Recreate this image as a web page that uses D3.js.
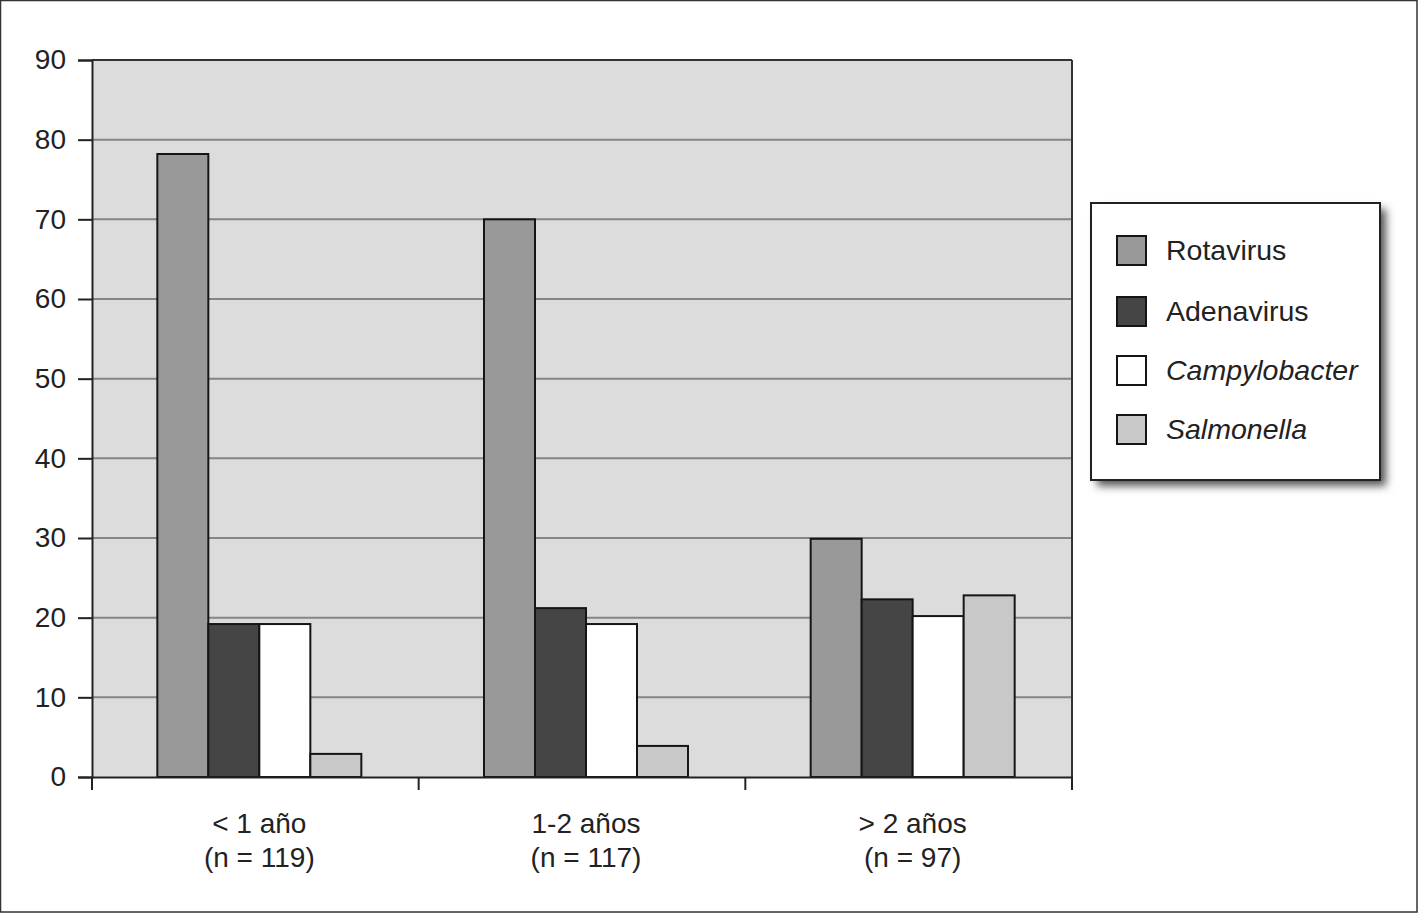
<!DOCTYPE html>
<html><head><meta charset="utf-8">
<script src="https://cdn.jsdelivr.net/npm/d3@7"></script>
<style>body{margin:0;background:#fff}svg{display:block}text{font-family:"Liberation Sans",Arial,sans-serif;fill:#222}</style>
</head><body>
<script>
const categories = ["< 1 año", "1-2 años", "> 2 años"];
const categoryN = ["(n = 119)", "(n = 117)", "(n = 97)"];
const series = ["Rotavirus", "Adenavirus", "Campylobacter", "Salmonella"];
const italicSeries = [false, false, true, true];
const colors = ["#999999", "#454545", "#ffffff", "#c8c8c8"];
const rotavirus = [78.2, 70.0, 29.9];
const adenavirus = [19.2, 21.2, 22.3];
const campylobacter = [19.2, 19.2, 20.2];
const salmonella = [2.9, 3.9, 22.8];
const yTicks = [0, 10, 20, 30, 40, 50, 60, 70, 80, 90];
const values = [rotavirus, adenavirus, campylobacter, salmonella];

const W = 1418, H = 913;
const L = 92, R = 1072, T = 60, B = 777;
const svg = d3.select("body").append("svg").attr("width", W).attr("height", H);
const defs = svg.append("defs");
const f = defs.append("filter").attr("id","sh").attr("x","-20%").attr("y","-20%").attr("width","150%").attr("height","150%");
f.append("feGaussianBlur").attr("stdDeviation", 4);

svg.append("rect").attr("x",0.5).attr("y",0.5).attr("width",W-1.5).attr("height",H-1.5).attr("fill","#fff").attr("stroke","#333").attr("stroke-width",1.5);

const y = d3.scaleLinear().domain([0, 90]).range([B, T]);
const x0 = d3.scaleBand().domain(categories).range([L, R]);
const groupW = 204;
const x1 = d3.scaleBand().domain(series).range([0, groupW]);
const offset = (x0.bandwidth() - groupW) / 2 + 4;

svg.append("rect").attr("x",L).attr("y",T).attr("width",R-L).attr("height",B-T).attr("fill","#dcdcdc");
svg.append("g").selectAll("line").data(yTicks.filter(d=>d>0 && d<90)).join("line")
  .attr("x1",L).attr("x2",R).attr("y1",d=>y(d)).attr("y2",d=>y(d)).attr("stroke","#858585").attr("stroke-width",2);
svg.append("line").attr("x1",L).attr("x2",R).attr("y1",T).attr("y2",T).attr("stroke","#333").attr("stroke-width",2);
svg.append("line").attr("x1",R).attr("x2",R).attr("y1",T).attr("y2",B).attr("stroke","#333").attr("stroke-width",2);

const g = svg.append("g");
categories.forEach((c, ci) => {
  series.forEach((s, si) => {
    g.append("rect")
      .attr("x", x0(c) + offset + x1(s))
      .attr("y", y(values[si][ci]))
      .attr("width", x1.bandwidth())
      .attr("height", B - y(values[si][ci]))
      .attr("fill", colors[si]).attr("stroke", "#151515").attr("stroke-width", 2);
  });
});

// y axis
const ya = svg.append("g").attr("transform", `translate(${L},0)`)
  .call(d3.axisLeft(y).tickValues(yTicks).tickSize(14).tickPadding(12));
ya.select(".domain").attr("stroke","#222").attr("stroke-width",2);
ya.selectAll(".tick line").attr("stroke","#222").attr("stroke-width",2);
ya.selectAll(".tick text").attr("font-size",28).style("fill","#222").attr("font-family","Liberation Sans, Arial, sans-serif");

// x axis
const xa = svg.append("g").attr("transform", `translate(0,${B})`)
  .call(d3.axisBottom(x0).tickSize(0).tickFormat(""));
xa.select(".domain").attr("stroke","#222").attr("stroke-width",2);
const bounds = categories.map(c => x0(c)).concat([R]);
xa.selectAll("line.sep").data(bounds).join("line").attr("class","sep")
  .attr("x1",d=>d).attr("x2",d=>d).attr("y1",0).attr("y2",13).attr("stroke","#222").attr("stroke-width",2);

categories.forEach((c, ci) => {
  const cx = x0(c) + offset + groupW / 2;
  svg.append("text").attr("x", cx).attr("y", 833).attr("text-anchor","middle").attr("font-size",28).text(c);
  svg.append("text").attr("x", cx).attr("y", 867).attr("text-anchor","middle").attr("font-size",28).text(categoryN[ci]);
});

// legend
const lx = 1091, ly = 203, lw = 289, lh = 277;
svg.append("rect").attr("x",lx+6).attr("y",ly+6).attr("width",lw).attr("height",lh).attr("fill","#555").attr("filter","url(#sh)");
svg.append("rect").attr("x",lx).attr("y",ly).attr("width",lw).attr("height",lh).attr("fill","#fff").attr("stroke","#222").attr("stroke-width",2);
const rowY = [250, 311, 370, 429];
series.forEach((s, i) => {
  svg.append("rect").attr("x",1117).attr("y",rowY[i]-14).attr("width",29).attr("height",29)
    .attr("fill",colors[i]).attr("stroke","#151515").attr("stroke-width",2);
  svg.append("text").attr("x",1166).attr("y",rowY[i]+10).attr("font-size",28.5)
    .attr("font-style", italicSeries[i] ? "italic" : "normal").text(s);
});
</script>
</body></html>
